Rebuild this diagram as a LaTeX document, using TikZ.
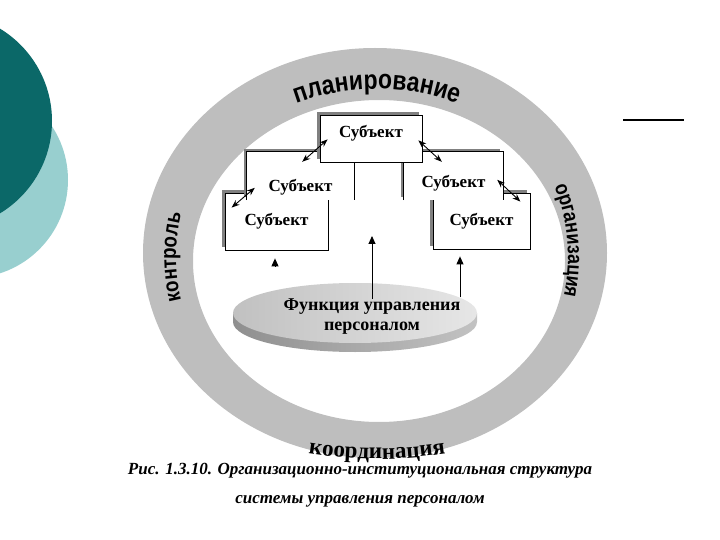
\documentclass[tikz,border=0pt]{standalone}
\usepackage{fontspec}
\setmainfont{Liberation Serif}
\newfontfamily\ringfont[FakeStretch=0.85]{Liberation Sans}
\usepackage{tikz}
\usetikzlibrary{arrows.meta,calc,shadows,decorations.text}
\definecolor{ringgray}{HTML}{BEBEBE}
\definecolor{tealdark}{HTML}{0B6868}
\definecolor{teallight}{HTML}{98CFCF}
\definecolor{boxshade}{HTML}{808080}
\definecolor{disktop}{HTML}{D6D6D6}
\definecolor{diskside}{HTML}{A8A8A8}
\newcommand\ringsans[1]{\ringfont\bfseries\fontsize{#1}{#1}\selectfont}
\newcommand\ringserif[1]{\rmfamily\bfseries\fontsize{#1}{#1}\selectfont}
\tikzset{
  >={Stealth[length=8pt,width=6pt]},
  link/.style={<->,line width=0.9pt},
  uparrow/.style={-{Triangle[length=8pt,width=7pt]},line width=0.9pt},
  subj/.style={rectangle,fill=white,inner sep=0pt,font=\fontsize{17}{17}\selectfont\bfseries,
               general shadow={shadow xshift=-3pt,shadow yshift=3pt,fill=boxshade}},
  boxfront/.style={subj,draw=black,line width=0.8pt},
  boxback/.style={subj,text depth=0pt},
  ringtext/.style={decorate,decoration={text along path,text align=center,text={#1}}},
  captext/.style={font=\fontsize{17}{17}\selectfont\bfseries\itshape,inner sep=0pt}
}
\begin{document}
\begin{tikzpicture}[x=1pt,y=-1pt]
  \useasboundingbox (0,0) rectangle (720,540);
  % slide decoration
  \fill[teallight] (-30,180) circle[radius=98];
  \fill[tealdark] (-56,121) circle[radius=108];
  \draw[line width=1.2pt] (623,120) -- (684,120);
  % ring of functions
  \fill[ringgray,even odd rule] (375,253) ellipse[x radius=232,y radius=205]
                                (379,261) ellipse[x radius=186,y radius=161];
  \begin{scope}\ringsans{27}
    \path[ringtext=планирование]
      (377,257) ++(230:200 and 168) arc[start angle=230,end angle=310,x radius=200,y radius=168];
  \end{scope}
  \begin{scope}\ringsans{22}
    \path[ringtext=контроль]
      (377,257) ++(150:201 and 190) arc[start angle=150,end angle=210,x radius=201,y radius=190];
  \end{scope}
  \begin{scope}\ringsans{21}
    \path[ringtext=организация]
      (377,257) ++(-45:191 and 190) arc[start angle=-45,end angle=35,x radius=191,y radius=190];
  \end{scope}
  \begin{scope}\ringserif{23}
    \path[ringtext=координация]
      (377,256) ++(130:300 and 203) arc[start angle=130,end angle=50,x radius=300,y radius=203];
  \end{scope}
  % disk
  \shade[left color=diskside!85!black,right color=diskside!70!white]
    (233,313) -- (233,322) arc[start angle=180,end angle=0,x radius=122,y radius=30] -- (477,313) -- cycle;
  \shade[left color=disktop!90!black,right color=disktop!60!white] (355,313) ellipse[x radius=122,y radius=30];
  \node[align=center,font=\fontsize{18}{20}\selectfont\bfseries,inner sep=0pt] (fn) at (372,317) {Функция управления\\персоналом};
  % subjects
  \node[boxfront,minimum width=103pt,minimum height=57pt] (bl) at (276.5,221.5) {Субъект};
  \node[boxfront,minimum width=97pt,minimum height=56pt] (br) at (481.5,221) {Субъект};
  \node[boxback,minimum width=107pt,minimum height=48pt,text height=32pt] (ml) at (300.5,176) {Субъект};
  \node[boxback,minimum width=99pt,minimum height=48pt,text height=23pt] (mr) at (453.5,176) {Субъект};
  \foreach \b in {ml,mr}
    \draw[line width=0.8pt] (\b.south west) -- (\b.north west) -- (\b.north east) -- (\b.south east);
  \node[boxfront,minimum width=102pt,minimum height=47pt,text height=8pt,text depth=10pt] (chief) at (371,138.5) {Субъект};
  % links
  \draw[link] ($(chief.south west)+(8,-23)$) -- ($(ml.north east)+(-52,10)$);
  \draw[link] ($(ml.north west)+(8,36)$) -- ($(bl.north west)+(7,15)$);
  \draw[link] ($(chief.south east)+(-4,-22)$) -- ($(mr.north west)+(38,10)$);
  \draw[link] ($(mr.north east)+(-6,28)$) -- ($(br.north east)+(-10,9)$);
  \draw[uparrow] ($(bl.south)+(-1.5,16)$) -- ($(bl.south)+(-1.5,8)$);
  \draw[uparrow] (fn.north) -- ++(0,-63);
  \draw[uparrow] ($(br.south)+(-21.5,48)$) -- ($(br.south)+(-21.5,7)$);
  % caption
  \node[captext] (cap1) at (360,471) {Рис. 1.3.10. Организационно-институциональная структура};
  \node[captext] (cap2) at (360,501) {системы управления персоналом};
\end{tikzpicture}
\end{document}
